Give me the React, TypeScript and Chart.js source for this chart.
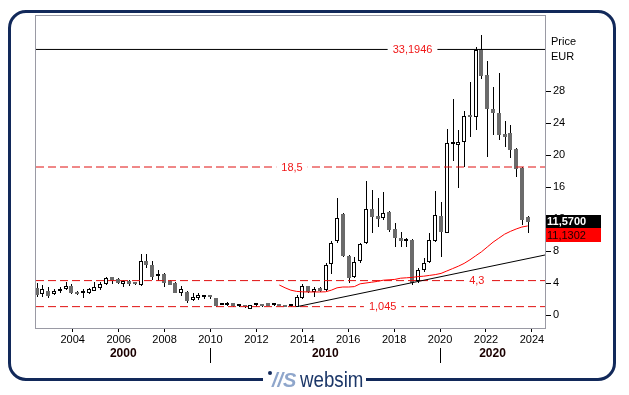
import React, { useEffect, useRef } from "react";
import { Chart, registerables } from "chart.js";

Chart.register(...registerables);

// Quarterly candles, first quarter starting mid-2002
const START_YEAR = 2002.43;
const QUARTER_STEP = 0.2516;

const OPENS = [
  3.4, 2.6, 3.0, 2.6, 2.95, 3.2, 3.65, 2.9, 2.7, 2.8,
  3.05, 3.35, 3.85, 4.7, 4.45, 3.85, 4.25, 4.1, 3.75, 6.75,
  6.3, 4.85, 5.1, 4.3, 4.0, 2.7, 2.9, 1.9, 2.1, 2.2,
  2.25, 2.1, 1.25, 1.25, 1.45, 1.1, 1.0, 0.8, 1.2, 1.2,
  1.45, 1.2, 1.2, 1.1, 1.1, 1.05, 2.1, 3.6, 2.9, 3.35,
  3.1, 6.4, 9.2, 12.6, 7.4, 4.7, 6.7, 8.95, 13.2, 12.4,
  12.1, 12.9, 10.7, 9.6, 9.2, 9.4, 4.3, 5.6, 6.6, 9.2,
  12.4, 10.3, 21.35, 21.3, 21.6, 25.0, 24.7, 33.2, 30.0, 25.8,
  25.3, 22.6, 22.7, 20.8, 18.4, 12.2,
];
const HIGHS = [
  3.95, 3.8, 3.55, 3.2, 3.55, 4.1, 3.85, 3.05, 3.25, 3.35,
  4.1, 4.1, 4.75, 4.75, 4.6, 4.4, 4.35, 4.15, 7.6, 7.6,
  6.8, 5.65, 5.3, 4.4, 4.15, 3.6, 3.05, 2.7, 2.7, 2.5,
  2.4, 2.15, 1.5, 1.6, 1.5, 1.3, 1.05, 1.25, 1.5, 1.3,
  1.5, 1.45, 1.25, 1.15, 1.25, 2.5, 3.9, 3.65, 3.55, 3.45,
  6.5, 9.2, 14.6, 12.7, 7.45, 7.2, 9.0, 16.7, 15.6, 14.6,
  15.4, 13.0, 11.5, 10.4, 9.6, 9.45, 5.85, 7.1, 10.2, 15.5,
  14.1, 23.3, 27.0, 23.1, 25.5, 29.1, 33.5, 35.0, 31.7, 28.5,
  30.2, 24.2, 23.8, 20.9, 18.5, 12.4,
];
const LOWS = [
  2.3, 2.2, 2.1, 2.5, 2.8, 3.1, 2.6, 2.5, 2.15, 2.65,
  3.0, 3.1, 3.75, 3.85, 3.9, 3.55, 3.65, 3.8, 3.6, 5.85,
  4.35, 4.2, 3.55, 3.7, 2.7, 2.4, 1.5, 1.8, 1.9, 1.95,
  2.05, 1.05, 1.2, 1.15, 1.05, 1.05, 0.9, 0.78, 1.05, 1.05,
  1.1, 1.15, 1.1, 1.0, 1.0, 1.0, 1.95, 2.7, 2.2, 2.9,
  3.0, 5.1, 8.95, 7.3, 4.05, 4.6, 6.45, 8.9, 10.2, 11.0,
  11.9, 10.4, 8.45, 8.45, 8.55, 3.8, 4.0, 5.4, 6.5, 9.1,
  7.3, 10.2, 19.2, 15.9, 18.5, 22.3, 23.1, 29.5, 19.8, 22.5,
  21.9, 21.0, 19.6, 17.2, 11.3, 10.3,
];
const CLOSES = [
  2.5, 3.2, 2.4, 3.0, 3.25, 3.65, 2.8, 2.65, 2.8, 3.2,
  3.55, 3.85, 4.65, 4.25, 4.0, 4.3, 3.85, 3.85, 6.75, 6.3,
  4.7, 4.95, 4.05, 3.8, 2.8, 3.3, 1.7, 2.3, 2.45, 2.25,
  2.2, 1.15, 1.35, 1.55, 1.1, 1.15, 0.95, 1.2, 1.25, 1.15,
  1.15, 1.3, 1.15, 1.05, 1.15, 2.3, 3.6, 2.9, 3.3, 3.05,
  6.25, 9.0, 12.1, 7.4, 4.6, 6.6, 8.9, 13.3, 12.3, 12.0,
  12.8, 10.6, 9.6, 9.2, 9.45, 4.0, 5.6, 6.5, 9.4, 12.5,
  10.4, 21.5, 21.45, 21.6, 24.9, 24.7, 33.1, 29.9, 25.8, 25.3,
  22.5, 22.3, 20.6, 18.25, 11.9, 11.57,
];

// Moving average (starts at candle index MA_START)
const MA_START = 42;
const MA_VALUES = [
  3.75, 3.4, 3.1, 2.95, 2.9, 2.88, 2.88, 2.88, 2.9, 3.1,
  3.4, 3.5, 3.5, 3.55, 3.9, 4.0, 4.1, 4.2, 4.35, 4.4,
  4.45, 4.6, 4.65, 4.7, 4.8, 4.85, 4.95, 5.05, 5.2, 5.5,
  5.8, 6.1, 6.45, 6.9, 7.4, 7.9, 8.5, 9.1, 9.6, 10.1,
  10.45, 10.75, 11.0, 11.13,
];
const MA_LAST = 11.1302;
const LAST_CLOSE = 11.57;

// Support trend line
const TREND_X = [2013.76, 2024.57];
const TREND_Y = [1.04, 7.5];

// Horizontal levels
const LEVELS = [33.1946, 18.5, 4.3, 1.045];
const LEVEL_LABEL_YEARS = [2018.8, 2013.55, 2021.6, 2017.5];

const X_TICKS = [2004, 2006, 2008, 2010, 2012, 2014, 2016, 2018, 2020, 2022, 2024];
const Y_TICKS = [0, 4, 8, 12, 16, 20, 24, 28];
const DECADES = ["2000", "2010", "2020"];
const DECADE_BOUNDS = [2010, 2020];

const X_MIN = 2002.4;
const X_MAX = 2024.57;
const Y_MIN = -1.625;
const Y_MAX = 37.375;

const FONT = '"Liberation Sans", Arial, sans-serif';
const NAVY = "#12295a";

const fmt = (v: number) => String(v).replace(".", ",");

export default function App() {
  const ref = useRef<HTMLCanvasElement>(null);

  useEffect(() => {
    if (!ref.current) return;
    const xs = OPENS.map((_, i) => START_YEAR + i * QUARTER_STEP);
    const up = OPENS.map((o, i) => CLOSES[i] >= o);
    const bodyData = OPENS.map((o, i) => ({ x: xs[i], y: [o, CLOSES[i]] }));
    const wickData = OPENS.map((_, i) => ({ x: xs[i], y: [LOWS[i], HIGHS[i]] }));
    const maData = MA_VALUES.map((v, i) => ({ x: xs[MA_START + i], y: v }));
    const trendData = TREND_X.map((x, i) => ({ x, y: TREND_Y[i] }));
    const levelData = (v: number) => [
      { x: X_MIN, y: v },
      { x: X_MAX, y: v },
    ];

    const overlay = {
      id: "overlay",
      beforeDatasetsDraw(chart: any) {
        // snap candle elements to whole pixels for crisp rendering
        chart.data.datasets.forEach((ds: any, di: number) => {
          if (ds.type !== "bar") return;
          const meta = chart.getDatasetMeta(di);
          const isWick = ds.barThickness === 1;
          meta.data.forEach((el: any) => {
            const cx = Math.round(el.x);
            el.x = isWick ? cx + 0.5 : cx;
            el.y = Math.round(el.y);
            el.base = Math.round(el.base);
            if (el.base === el.y) el.base = el.y + 1;
            el.height = el.base - el.y;
          });
        });
      },
      afterDatasetsDraw(chart: any) {
        const { ctx, chartArea: a, scales } = chart;
        const x = scales.x;
        const y = scales.y;
        ctx.save();
        // plot frame
        ctx.strokeStyle = "#9a9aa4";
        ctx.lineWidth = 1;
        ctx.strokeRect(Math.round(a.left) - 0.5, Math.round(a.top) - 0.5, a.right - a.left + 1, a.bottom - a.top + 1);
        // level labels
        ctx.font = `11px ${FONT}`;
        ctx.textAlign = "center";
        ctx.textBaseline = "middle";
        LEVELS.forEach((lv, i) => {
          const t = fmt(lv);
          const px = x.getPixelForValue(LEVEL_LABEL_YEARS[i]);
          const py = y.getPixelForValue(lv);
          const w = ctx.measureText(t).width;
          ctx.fillStyle = "#ffffff";
          ctx.fillRect(px - w / 2 - 5, py - 6, w + 10, 12);
          ctx.fillStyle = "#f01818";
          ctx.fillText(t, px, py + 0.5);
        });
        ctx.restore();
      },
      afterDraw(chart: any) {
        const { ctx, chartArea: a, scales } = chart;
        const x = scales.x;
        const y = scales.y;
        ctx.save();
        // axis title
        ctx.font = `11px ${FONT}`;
        ctx.fillStyle = "#000";
        ctx.textAlign = "left";
        ctx.textBaseline = "middle";
        ctx.fillText("Price", a.right + 6, 42);
        ctx.fillText("EUR", a.right + 6, 57);
        // value boxes
        const yc = Math.round(y.getPixelForValue(LAST_CLOSE));
        const bx = a.right + 1;
        const bw = 55;
        ctx.fillStyle = "#000";
        ctx.fillRect(bx, yc - 7, bw, 13);
        ctx.fillStyle = "#ff0000";
        ctx.fillRect(bx, yc + 6, bw, 14);
        ctx.font = `bold 11px ${FONT}`;
        ctx.fillStyle = "#fff";
        ctx.fillText(LAST_CLOSE.toFixed(4).replace(".", ","), bx + 1, yc);
        ctx.font = `11px ${FONT}`;
        ctx.fillStyle = "#1a0000";
        ctx.fillText(MA_LAST.toFixed(4).replace(".", ","), bx + 1, yc + 13.5);
        // decade labels
        const bounds = [a.left, ...DECADE_BOUNDS.map((d) => x.getPixelForValue(d)), a.right];
        ctx.font = `bold 12px ${FONT}`;
        ctx.textAlign = "center";
        DECADES.forEach((d, i) => {
          ctx.fillText(d, (bounds[i] + bounds[i + 1]) / 2, 354);
        });
        ctx.strokeStyle = "#000";
        ctx.lineWidth = 1;
        DECADE_BOUNDS.forEach((d) => {
          const px = Math.round(x.getPixelForValue(d)) + 0.5;
          ctx.beginPath();
          ctx.moveTo(px, 348);
          ctx.lineTo(px, 363);
          ctx.stroke();
        });
        ctx.restore();
      },
    };

    const chart = new Chart(ref.current, {
      type: "bar",
      data: {
        datasets: [
          {
            type: "line",
            data: maData,
            borderColor: "#ff0000",
            borderWidth: 1,
            pointRadius: 0,
            tension: 0,
            fill: false,
            order: 0,
          },
          {
            type: "line",
            data: trendData,
            borderColor: "#000",
            borderWidth: 1,
            pointRadius: 0,
            fill: false,
            order: 0,
          },
          {
            type: "line",
            data: levelData(LEVELS[0]),
            borderColor: "#000",
            borderWidth: 1,
            pointRadius: 0,
            fill: false,
            order: 0,
          },
          ...LEVELS.slice(1).map((lv) => ({
            type: "line" as const,
            data: levelData(lv),
            borderColor: "#e01010",
            borderWidth: 1,
            borderDash: [8, 4],
            pointRadius: 0,
            fill: false,
            order: 0,
          })),
          {
            type: "bar",
            data: bodyData as any,
            backgroundColor: up.map((u) => (u ? "#ffffff" : "#6b6b6b")),
            borderColor: up.map((u) => (u ? "#000000" : "#6b6b6b")),
            borderWidth: up.map((u) => (u ? 1 : 0)),
            borderSkipped: false,
            barThickness: 4,
            minBarLength: 2,
            grouped: false,
            inflateAmount: 0,
            order: 1,
          },
          {
            type: "bar",
            data: wickData as any,
            backgroundColor: "#000",
            borderWidth: 0,
            barThickness: 1,
            grouped: false,
            inflateAmount: 0,
            order: 2,
          },
        ] as any,
      },
      options: {
        animation: false,
        responsive: false,
        devicePixelRatio: 1,
        events: [],
        layout: { padding: { left: 36, top: 16, right: 0, bottom: 0 } },
        plugins: { legend: { display: false }, tooltip: { enabled: false } },
        scales: {
          x: {
            type: "linear",
            position: "bottom",
            min: X_MIN,
            max: X_MAX,
            offset: false,
            afterBuildTicks: (s: any) => {
              s.ticks = X_TICKS.map((v) => ({ value: v }));
            },
            afterFit: (s: any) => {
              s.height = 67;
            },
            grid: { drawOnChartArea: false, offset: false, tickLength: 4, color: "#000" },
            border: { display: true, color: "#9a9aa4" },
            ticks: {
              autoSkip: false,
              maxRotation: 0,
              padding: 1,
              color: "#000",
              font: { family: FONT, size: 11 },
              callback: (v: any) => String(v),
            },
          },
          y: {
            type: "linear",
            position: "right",
            min: Y_MIN,
            max: Y_MAX,
            afterBuildTicks: (s: any) => {
              s.ticks = Y_TICKS.map((v) => ({ value: v }));
            },
            afterFit: (s: any) => {
              s.width = 84;
            },
            grid: { drawOnChartArea: false, tickLength: 6, color: "#000" },
            border: { display: true, color: "#9a9aa4" },
            ticks: {
              padding: 2,
              color: "#000",
              font: { family: FONT, size: 11 },
              callback: (v: any) => String(v),
            },
          },
        },
      } as any,
      plugins: [overlay],
    });
    return () => chart.destroy();
  }, []);

  return (
    <div style={{ position: "fixed", left: 0, top: 0, width: 629, height: 395, background: "#fff", overflow: "hidden" }}>
      <div
        style={{
          position: "absolute",
          left: 8,
          top: 10,
          width: 608,
          height: 371,
          border: `3px solid ${NAVY}`,
          borderRadius: 18,
          boxSizing: "border-box",
        }}
      />
      <canvas ref={ref} width={629} height={395} style={{ position: "absolute", left: 0, top: 0 }} />
      <div style={{ position: "absolute", left: 263, top: 374, width: 103, height: 10, background: "#fff" }} />
      <div
        style={{
          position: "absolute",
          left: 268,
          top: 371,
          width: 4,
          height: 4,
          borderRadius: "50%",
          background: NAVY,
        }}
      />
      <span
        style={{
          position: "absolute",
          left: 272,
          top: 369,
          fontFamily: FONT,
          fontWeight: "bold",
          fontStyle: "italic",
          fontSize: 20,
          lineHeight: "22px",
          color: "#8fa6cb",
          whiteSpace: "nowrap",
        }}
      >
        //S
      </span>
      <span
        style={{
          position: "absolute",
          left: 300,
          top: 369,
          fontFamily: FONT,
          fontSize: 22,
          lineHeight: "22px",
          color: "#1c3768",
          transform: "scaleX(0.85)",
          transformOrigin: "left center",
          whiteSpace: "nowrap",
        }}
      >
        websim
      </span>
    </div>
  );
}
